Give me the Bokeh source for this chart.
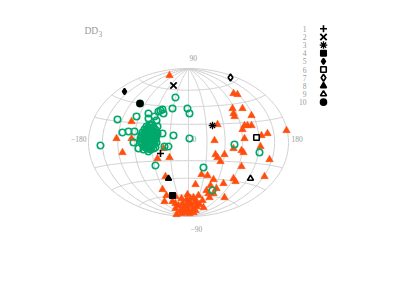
import numpy as np
from bokeh.plotting import figure
from bokeh.embed import file_html
from bokeh.resources import INLINE

# Positions on the Hammer plane (100 units = half width)
orange_x = [-19,-57,-72,-57,-66,-25,-31,-19,45,49,44,54,45,46,63,29,63,59,56,54,98,79,73,56,26,72,45,53,55,27,36,29,32,81,53,76,45,47,35,25,28,36,-23,7,13,19,-26,22,
            -22,-24,-13,-1,-7,10,5,20,14,-13,-12,-16,-13,-10,-6,-2,2,-4,0,4,8,2,-2,8,11,-8,7,15,21,18,25,-5,-1,3,-3,1,5,-7,6]
orange_y = [67,21,4,4,-10,-6,-16,-15,49,48,34,34,29,26,27,18,17,17,17,13,12,9,7,4,2,-4,-6,-8,-10,-12,-12,-15,-19,-17,-24,-34,-36,-39,-41,-37,-46,-55,-34,-42,-32,-33,-47,-43,
            -53,-59,-54,-52,-56,-53,-55,-51,-58,-66,-72,-59,-61,-63,-61,-64,-61,-68,-68,-67,-64,-56,-57,-59,-62,-68,-68,-65,-55,-48,-51,-65,-60,-63,-70,-71,-70,-71,-60]
green_x = [-13,-28,-26,-30,-25,-16,-1,1,-40,-40,-34,-52,-71,-32,-31,-66,-60,-54,-26,-15,1,-88,-55,-50,-45,-40,-24,-20,-32,-33,-35,-33,15,46,71,24,-48.5,
           -42,-38,-35,-44,-40,-36,-33,-46,-42,-38,-34,-31,-47,-43,-39,-35,-32,-48,-44,-40,-36,-33,-48,-44,-40,-36,-34,-46,-42,-38,-35,-43,-40,-37,
           -40,-37,-42,-38,-34,-44,-40,-36,-33,-45,-41,-37,-34,-46,-42,-38,-35,-46,-42,-38,-35,-44,-40,-36,-41,-38,-39,-36,-43]
green_y = [45,32,33,31,29,34,34,29,29,24,26,26,23,22,16,10,11,11,9,7,4,-3,0,-6,-7,-9,-4,-4,0,-5,-6,-23,-25,-2,-10,-48,39,
           16,17,15,13,14,12,13,10,11,9,10,9,7,8,6,7,6,4,5,3,4,3,1,2,0,1,-1,-2,-1,-3,-2,-5,-6,-5,
           15,14,12,11,11,9,8,8,8,6,5,5,5,3,2,2,2,0,-1,-1,-1,-3,-4,-3,-6,-7,18,18,-4]
series_names = ["1","2","3","4","5","6","7","8","9","10"]
black_x = [-28,-15,24,-16,-64,68,42,-20,62,-48.5]
black_y = [-11,57,17,-53,51,5,65,-36,-36,39]
black_markers = ["cross","x","asterisk","square","diamond","square","diamond","triangle","triangle","circle"]
black_filled = [False,False,False,True,True,False,False,True,False,True]
black_sizes = [7,9,7.5,5.5,6,5.5,7,6,6,6]
lat_lines = [-60,-40,-20,20,40,60]
lon_lines = [-150,-120,-90,-60,-30,0,30,60,90,120,150]

A, B = 100, 74
def hammer(lon, lat):
    l = np.radians(lon); f = np.radians(lat)
    d = np.sqrt(1 + np.cos(f) * np.cos(l / 2))
    return A * np.cos(f) * np.sin(l / 2) / d, B * np.sin(f) / d

p = figure(width=412, height=286, x_range=(-180, 224), y_range=(-144, 134),
           toolbar_location=None, output_backend="svg", min_border=0, min_border_left=8, min_border_top=8)
p.axis.visible = False
p.grid.visible = False
p.outline_line_color = None
GRID = "#cfcfcf"
for la in lat_lines:
    x, y = hammer(np.linspace(-180, 180, 181), la)
    p.line(x, y, line_color=GRID, line_width=1)
for lo in lon_lines + [-180, 180]:
    x, y = hammer(lo, np.linspace(-90, 90, 181))
    p.line(x, y, line_color=GRID, line_width=1)

p.scatter(orange_x, orange_y, marker="triangle", size=7.5, fill_color="#ff4d0d", line_color="#ff4d0d", line_width=0.5)
p.scatter(green_x, green_y, marker="circle", size=6.5, fill_color=None, line_color="#00a86b", line_width=1.6)

def draw_black(x, y, i):
    m, fill, s = black_markers[i], black_filled[i], black_sizes[i]
    lw = {"x": 1.8, "asterisk": 1.3}.get(m, 1.6)
    p.scatter([x], [y], marker=m, size=s, fill_color="black" if fill else ("white" if m not in ("cross","x","asterisk") else None),
              line_color="black", line_width=lw)

for i in range(10):
    draw_black(black_x[i], black_y[i], i)
    row = 113.7 - i * 8.15
    draw_black(135, row, i)
    p.text([118], [row], text=[series_names[i]], text_font_size="7.5px", text_color="#999999",
           text_align="right", text_baseline="middle", text_font="DejaVu Sans")

def label(x, y, s, size="7.5px", align="left"):
    p.text([x], [y], text=[s], text_font_size=size, text_color="#999999", text_align=align,
           text_baseline="middle", text_font="DejaVu Sans")
label(1, 85, "90")
label(2, -86, "\u221290")
label(-102, 4, "\u2212180", align="right")
label(103, 4, "180")
label(4, 4, "0")
label(-104, 112, "DD", size="9.5px")
label(-90, 109, "3", size="7.5px")

open("out.html", "w").write(file_html(p, INLINE))
